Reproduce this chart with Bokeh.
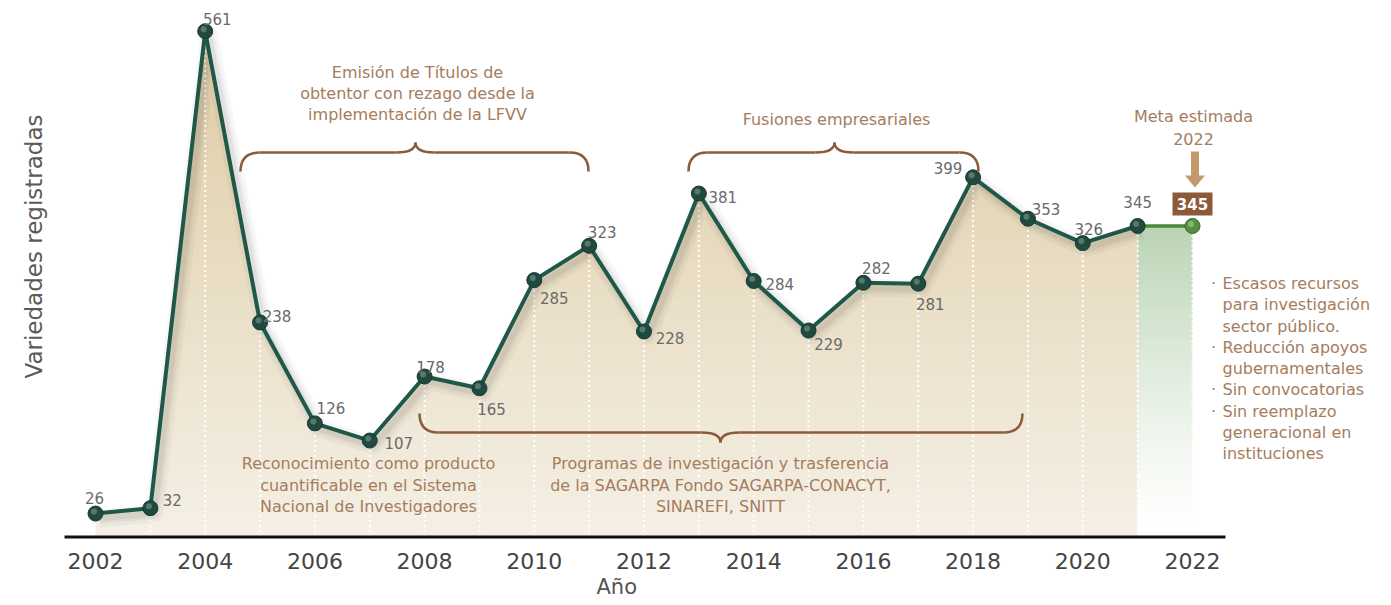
import numpy as np
from bokeh.plotting import figure
from bokeh.models import FixedTicker, Range1d, Title
from bokeh.core.properties import value
from bokeh.embed import file_html
from bokeh.resources import INLINE

# ---------------- data ----------------
years = [2002, 2003, 2004, 2005, 2006, 2007, 2008, 2009, 2010, 2011,
         2012, 2013, 2014, 2015, 2016, 2017, 2018, 2019, 2020, 2021]
varieties = [26, 32, 561, 238, 126, 107, 178, 165, 285, 323,
             228, 381, 284, 229, 282, 281, 399, 353, 326, 345]
goal_years = [2021, 2022]
goal_values = [345, 345]
tick_years = [2002, 2004, 2006, 2008, 2010, 2012, 2014, 2016, 2018, 2020, 2022]
tick_labels = ["2002", "2004", "2006", "2008", "2010", "2012", "2014", "2016", "2018", "2020", "2022"]
value_labels = [str(v) for v in varieties]
goal_label = str(goal_values[-1])

x_title = "Año"
y_title = "Variedades registradas"

ann_texts = ["Emisión de Títulos de", "obtentor con rezago desde la", "implementación de la LFVV",
             "Fusiones empresariales",
             "Meta estimada", "2022",
             "Reconocimiento como producto", "cuantificable en el Sistema", "Nacional de Investigadores",
             "Programas de investigación y trasferencia", "de la SAGARPA Fondo SAGARPA-CONACYT,", "SINAREFI, SNITT"]
bullet_texts = ["Escasos recursos", "para investigación", "sector público.",
                "Reducción apoyos", "gubernamentales", "Sin convocatorias",
                "Sin reemplazo", "generacional en", "instituciones"]
bullet_flags = [True, False, False, True, False, True, True, False, False]

# ---------------- layout / style ----------------
FONT = "DejaVu Sans"
W, H = 1391, 605
PX_X0, PX_PER_YEAR = 95.0, 54.85
PX_Y0, PX_PER_UNIT = 536.5, 0.9015
FRAME_BOTTOM = 539


def X(px):
    return 2002 + (px - PX_X0) / PX_PER_YEAR


def Y(py):
    return (PX_Y0 - py) / PX_PER_UNIT


LINE_C = "#1f5848"
MARK_C = "#21493f"
GREEN_LINE = "#4a8a3a"
GREEN_MARK = "#55913f"
BRACE_C = "#8c5b37"
ANN_C = "#a57c5c"
LABEL_C = "#6a6a6a"
BOX_C = "#8b5a38"
ARROW_C = "#c49a6c"
BEIGE_TOP = (221, 203, 163)
BEIGE_BOT = (245, 240, 230)
GREEN_TOP = (186, 212, 180)
GREEN_BOT = (255, 255, 255)

# label offsets in screen px (x right, y down)
label_dx = [-1, 22, 12, 17, 16, 29, 6, 12, 20, 13, 26, 24, 26, 20, 13, 12, -25, 18, 6, 0]
label_dy = [-16, -8, -12, -6, -15, 2, -10, 21, 18, -14, 7, 3, 3, 13, -15, 20, -9, -10, -14, -24]

ann_px = [(417, 72), (417, 93), (417, 114),
          (836, 119),
          (1193, 116), (1193, 138),
          (368, 463), (368, 485), (368, 506),
          (720, 463), (720, 485), (720, 506)]
bullet_y_px = [283, 304, 325.5, 346.5, 368, 389, 410.5, 432, 453]

braces_px = [  # xl, xr, xtip, y_line, y_end, y_tip
    (240, 588, 415, 152, 171, 142),
    (688, 978, 834, 152, 171, 142),
    (419, 1022, 720, 432, 413, 442),
]

p = figure(width=W, height=H, output_backend="svg", toolbar_location=None,
           x_range=Range1d(X(0), X(W)), y_range=Range1d(Y(FRAME_BOTTOM), Y(0)),
           y_axis_type=None, min_border_left=0, min_border_right=0,
           min_border_top=0, min_border_bottom=H - FRAME_BOTTOM)
p.title.visible = False
p.outline_line_color = None
p.xgrid.visible = False
p.ygrid.visible = False
p.background_fill_color = "white"
p.border_fill_color = "white"

ax = p.xaxis[0]
ax.ticker = FixedTicker(ticks=tick_years)
ax.major_label_overrides = {t: l for t, l in zip(tick_years, tick_labels)}
ax.axis_line_color = None
ax.major_tick_line_color = None
ax.minor_tick_line_color = None
ax.major_tick_out = 0
ax.major_tick_in = 0
ax.major_label_standoff = 13
ax.major_label_text_font = FONT
ax.major_label_text_font_size = "22px"
ax.major_label_text_color = "#444444"

# x title in the bottom panel
p.add_layout(Title(text=x_title, align="left", offset=596, standoff=2, text_font=FONT,
                   text_font_size="21px", text_font_style="normal", text_color="#555555"), "below")


def mix(c0, c1, t):
    return "#%02x%02x%02x" % tuple(int(round(a + (b - a) * t)) for a, b in zip(c0, c1))


# beige gradient area under the series
N = 100
top_val = max(varieties)
edges = np.linspace(0, top_val, N + 1)
mids = (edges[:-1] + edges[1:]) / 2
p.quad(left=years[0], right=years[-1], bottom=edges[:-1], top=edges[1:] + 0.8,
       fill_color=[mix(BEIGE_BOT, BEIGE_TOP, m / top_val) for m in mids], line_color=None)
# mask above the series line
eps = 0.02
TOP = Y(-20)
mask_x = [years[0] - eps, years[0] - eps] + years + [years[-1] + eps, years[-1] + eps]
mask_y = [TOP, varieties[0]] + varieties + [varieties[-1], TOP]
p.patch(mask_x, mask_y, fill_color="white", line_color=None)

# green gradient area for the goal
g_top = min(goal_values)
g_edges = np.linspace(0, g_top, 60 + 1)
g_mids = (g_edges[:-1] + g_edges[1:]) / 2
p.quad(left=goal_years[0], right=goal_years[-1], bottom=g_edges[:-1],
       top=np.minimum(g_edges[1:] + 0.8, g_top),
       fill_color=[mix(GREEN_BOT, GREEN_TOP, (m / g_top) ** 1.3) for m in g_mids], line_color=None)

# dotted drop lines
drop_x = years[1:] + goal_years[1:]
drop_y = varieties[1:] + goal_values[1:]
p.segment(x0=drop_x, y0=[0] * len(drop_x), x1=drop_x, y1=drop_y,
          line_color="white", line_width=2, line_dash="2 3")

# axis line
p.segment(x0=[X(64)], y0=[0], x1=[X(1225)], y1=[0], line_color="#111111", line_width=3)

# soft shadow of the line
sx = np.array(years) + 4 / PX_PER_YEAR
sy = np.array(varieties) - 5 / PX_PER_UNIT
for w, a in [(18, 0.03), (11, 0.04), (6, 0.05)]:
    p.line(sx, sy, line_width=w, line_color="black", line_alpha=a, line_join="round")

# series lines
p.line(goal_years, goal_values, line_width=3.5, line_color=GREEN_LINE)
p.line(years, varieties, line_width=4, line_color=LINE_C, line_join="round")

# markers (sphere look)
p.scatter(goal_years[1:], goal_values[1:], size=15, fill_color=GREEN_MARK, line_color="#35632a", line_width=1)
p.scatter(np.array(goal_years[1:]) - 1.5 / PX_PER_YEAR, np.array(goal_values[1:]) + 2 / PX_PER_UNIT,
          size=6, fill_color="#a8d08a", fill_alpha=0.6, line_color=None)
p.scatter(years, varieties, size=15, fill_color=MARK_C, line_color="#153a30", line_width=1)
p.scatter(np.array(years) - 1.5 / PX_PER_YEAR, np.array(varieties) + 2 / PX_PER_UNIT,
          size=6, fill_color="#7fa396", fill_alpha=0.55, line_color=None)

# value labels
p.text(x=years, y=varieties, text=value_labels, x_offset=label_dx, y_offset=label_dy,
       text_align="center", text_baseline="middle", text_font=value(FONT),
       text_font_size=value("15px"), text_color=LABEL_C)

# boxed goal label
box_y = goal_values[-1] + 22 / PX_PER_UNIT
p.rect(x=[goal_years[-1]], y=[box_y], width=40, height=23, width_units="screen",
       height_units="screen", fill_color=BOX_C, line_color=None)
p.text(x=[goal_years[-1]], y=[box_y], text=[goal_label], text_align="center", text_baseline="middle",
       text_font=value(FONT), text_font_size=value("15px"), text_font_style="bold", text_color="white")

# arrow pointing to goal
p.segment(x0=[X(1194.5)], y0=[Y(151)], x1=[X(1194.5)], y1=[Y(176)], line_color=ARROW_C,
          line_width=8, line_cap="butt")
p.patch([X(1184.5), X(1204.5), X(1194.5)], [Y(175), Y(175), Y(187)], fill_color=ARROW_C, line_color=None)

# braces
r = 19
q = dict(x0=[], y0=[], x1=[], y1=[], cx=[], cy=[])
s = dict(x0=[], y0=[], x1=[], y1=[])


def addq(a, b, c):
    q["x0"].append(X(a[0])); q["y0"].append(Y(a[1]))
    q["x1"].append(X(b[0])); q["y1"].append(Y(b[1]))
    q["cx"].append(X(c[0])); q["cy"].append(Y(c[1]))


def adds(a, b):
    s["x0"].append(X(a[0])); s["y0"].append(Y(a[1]))
    s["x1"].append(X(b[0])); s["y1"].append(Y(b[1]))


for xl, xr, xt, yl, ye, yt in braces_px:
    addq((xl, ye), (xl + r, yl), (xl, yl))
    adds((xl + r, yl), (xt - r, yl))
    addq((xt - r, yl), (xt, yt), (xt, yl))
    addq((xt, yt), (xt + r, yl), (xt, yl))
    adds((xt + r, yl), (xr - r, yl))
    addq((xr - r, yl), (xr, ye), (xr, yl))

p.quadratic(x0=q["x0"], y0=q["y0"], x1=q["x1"], y1=q["y1"], cx=q["cx"], cy=q["cy"],
            line_color=BRACE_C, line_width=2.5)
p.segment(x0=s["x0"], y0=s["y0"], x1=s["x1"], y1=s["y1"], line_color=BRACE_C, line_width=2.5)

# annotation texts
p.text(x=[X(a[0]) for a in ann_px], y=[Y(a[1]) for a in ann_px], text=ann_texts,
       text_align="center", text_baseline="middle", text_font=value(FONT),
       text_font_size=value("16px"), text_color=ANN_C)

# y title
p.text(x=[X(33)], y=[Y(246)], text=[y_title], angle=np.pi / 2, text_align="center",
       text_baseline="middle", text_font=value(FONT), text_font_size=value("23px"), text_color="#5a5a5a")

# bullet list
p.text(x=[X(1222)] * len(bullet_texts), y=[Y(v) for v in bullet_y_px], text=bullet_texts,
       text_align="left", text_baseline="middle", text_font=value(FONT),
       text_font_size=value("16px"), text_color=ANN_C)
bullet_ys = [Y(v) for v, f in zip(bullet_y_px, bullet_flags) if f]
p.text(x=[X(1213)] * len(bullet_ys), y=bullet_ys, text=["·"] * len(bullet_ys),
       text_align="center", text_baseline="middle", text_font=value(FONT),
       text_font_size=value("16px"), text_color=ANN_C)

open("out.html", "w").write(file_html(p, INLINE))
